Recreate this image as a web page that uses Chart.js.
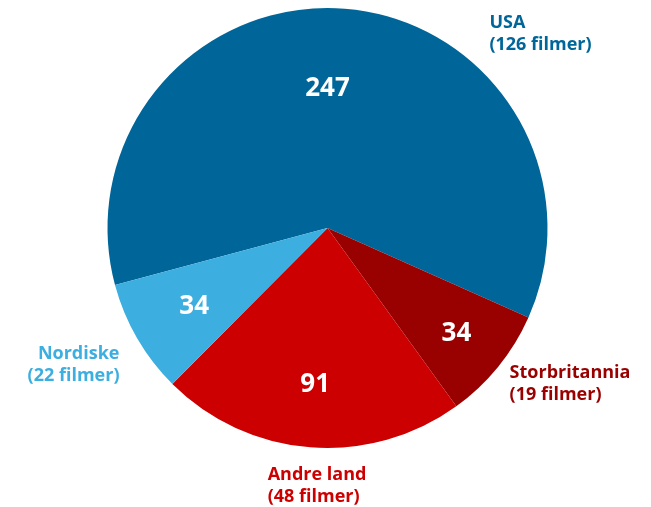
<!DOCTYPE html>
<html>
<head>
<meta charset="utf-8">
<script src="https://cdn.jsdelivr.net/npm/chart.js@4/dist/chart.umd.min.js"></script>
<style>
html,body{margin:0;padding:0;background:#fff;}
#wrap{width:651px;height:507px;position:relative;}
</style>
</head>
<body>
<div id="wrap"><canvas id="c" width="651" height="507"></canvas></div>
<script>
const categories = ["USA", "Storbritannia", "Andre land", "Nordiske"];
const values = [247, 34, 91, 34];
const filmCounts = [126, 19, 48, 22];
const colors = ["#006699", "#990000", "#cc0000", "#3daee0"];

// label layout: outer label anchor (screen angle in degrees, radius factor, alignment)
const outerLayout = [
  {angle: -50.3, r: 1.152, align: "left"},
  {angle: 40.4, r: 1.087, align: "left"},
  {angle: 103.1, r: 1.2, align: "left"},
  {angle: 146.8, r: 1.13, align: "right"}
];
// inner value label: angle override (null = mid angle), radius factor
const innerLayout = [
  {angle: -90, r: 0.64},
  {angle: null, r: 0.755},
  {angle: null, r: 0.71},
  {angle: null, r: 0.70}
];

const labelPlugin = {
  id: "labels",
  afterDatasetsDraw(chart) {
    const ctx = chart.ctx;
    const meta = chart.getDatasetMeta(0);
    meta.data.forEach((arc, i) => {
      const p = arc.getProps(["x", "y", "startAngle", "endAngle", "outerRadius"], true);
      const mid = (p.startAngle + p.endAngle) / 2;
      const il = innerLayout[i];
      const ia = il.angle === null ? mid : il.angle * Math.PI / 180;
      ctx.save();
      ctx.fillStyle = "#ffffff";
      ctx.font = "bold 26px 'Open Sans'";
      ctx.textAlign = "center";
      ctx.textBaseline = "middle";
      ctx.fillText(String(values[i]), p.x + Math.cos(ia) * p.outerRadius * il.r, p.y + Math.sin(ia) * p.outerRadius * il.r + 1);

      const ol = outerLayout[i];
      const oa = ol.angle * Math.PI / 180;
      const ox = p.x + Math.cos(oa) * p.outerRadius * ol.r;
      const oy = p.y + Math.sin(oa) * p.outerRadius * ol.r;
      ctx.fillStyle = colors[i];
      ctx.font = "bold 18px 'Open Sans'";
      ctx.textAlign = ol.align;
      ctx.fillText(categories[i], ox, oy - 10.5);
      ctx.fillText("(" + filmCounts[i] + " filmer)", ox, oy + 11.5);
      ctx.restore();
    });
  }
};

new Chart(document.getElementById("c"), {
  type: "pie",
  data: {
    labels: categories,
    datasets: [{
      data: values,
      backgroundColor: colors,
      borderWidth: 0
    }]
  },
  options: {
    responsive: false,
    animation: false,
    rotation: 255,
    layout: {padding: {top: 8, bottom: 59, left: 107, right: 103}},
    plugins: {legend: {display: false}, tooltip: {enabled: false}}
  },
  plugins: [labelPlugin]
});
</script>
</body>
</html>
